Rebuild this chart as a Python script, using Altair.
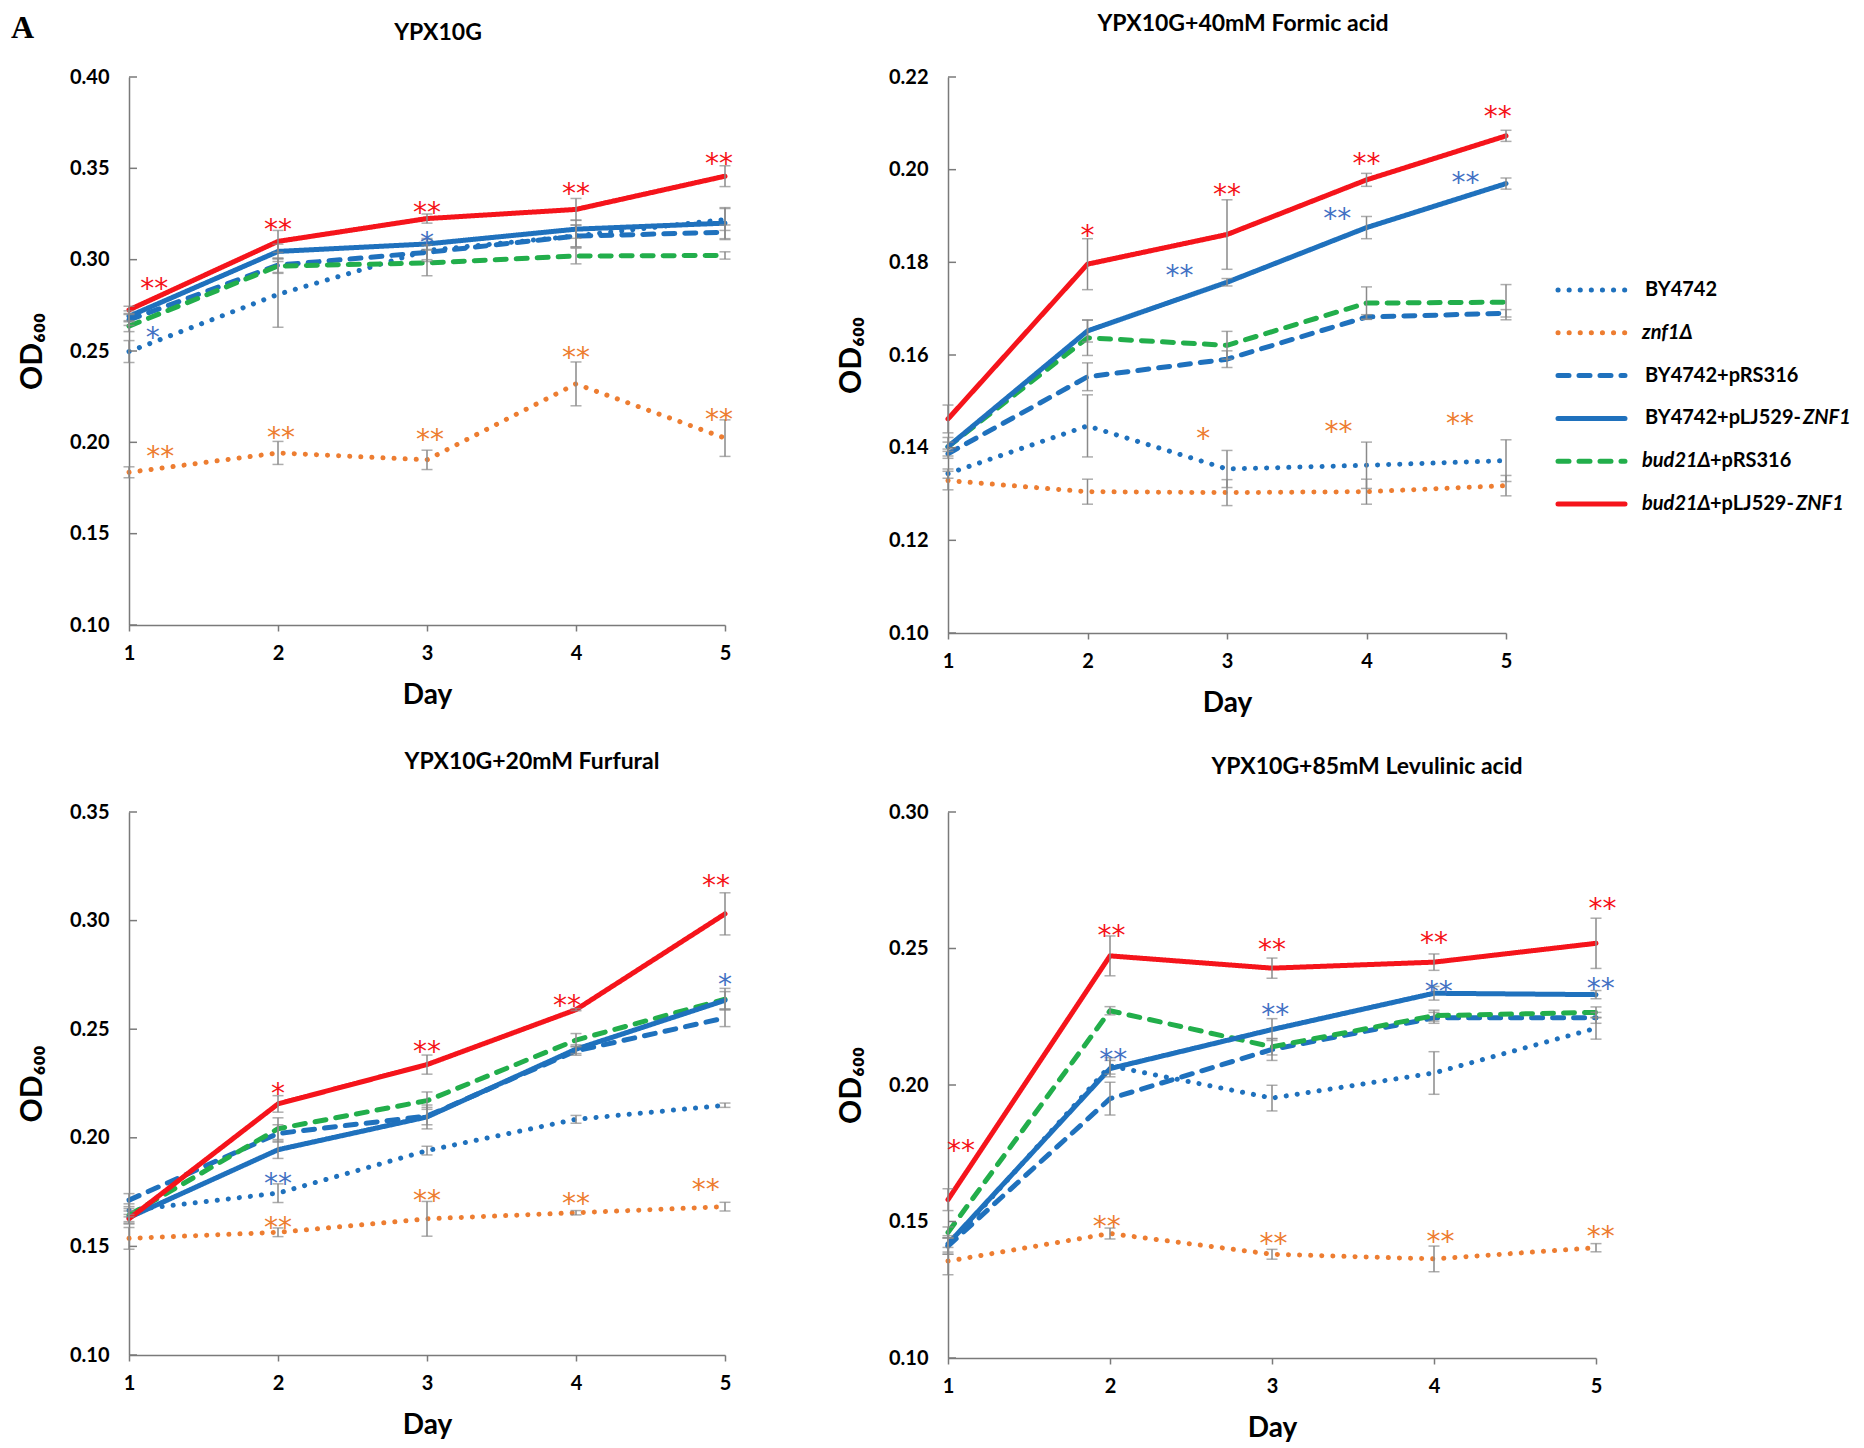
import altair as alt
import pandas as pd

# ---------------- data ----------------
DAYS = [1, 2, 3, 4, 5]
SERIES = ["BY4742", "znf1Δ", "BY4742+pRS316", "BY4742+pLJ529-ZNF1",
          "bud21Δ+pRS316", "bud21Δ+pLJ529-ZNF1"]
DRAW_ORDER = ["znf1Δ", "BY4742", "BY4742+pRS316", "bud21Δ+pRS316",
              "BY4742+pLJ529-ZNF1", "bud21Δ+pLJ529-ZNF1"]

TITLES = ["YPX10G", "YPX10G+40mM Formic acid",
          "YPX10G+20mM Furfural", "YPX10G+85mM Levulinic acid"]

YTICKS_1 = [0.10, 0.15, 0.20, 0.25, 0.30, 0.35, 0.40]
YTICKS_2 = [0.10, 0.12, 0.14, 0.16, 0.18, 0.20, 0.22]
YTICKS_3 = [0.10, 0.15, 0.20, 0.25, 0.30, 0.35]
YTICKS_4 = [0.10, 0.15, 0.20, 0.25, 0.30]

# Panel 1: YPX10G  (mean OD600, SD)
P1_MEAN = {
    "BY4742":             [0.2497, 0.2810, 0.3050, 0.3130, 0.3220],
    "znf1Δ":              [0.1836, 0.1942, 0.1904, 0.2320, 0.2023],
    "BY4742+pRS316":      [0.2670, 0.2970, 0.3040, 0.3129, 0.3150],
    "BY4742+pLJ529-ZNF1": [0.2690, 0.3045, 0.3086, 0.3167, 0.3200],
    "bud21Δ+pRS316":      [0.2636, 0.2965, 0.2982, 0.3020, 0.3023],
    "bud21Δ+pLJ529-ZNF1": [0.2725, 0.3100, 0.3225, 0.3275, 0.3457],
}
P1_SD = {
    "BY4742":             [0.0060, 0.0180, 0.0060, 0.0060, 0.0060],
    "znf1Δ":              [0.0030, 0.0063, 0.0053, 0.0120, 0.0100],
    "BY4742+pRS316":      [0.0030, 0.0040, 0.0040, 0.0060, 0.0040],
    "BY4742+pLJ529-ZNF1": [0.0030, 0.0040, 0.0030, 0.0050, 0.0085],
    "bud21Δ+pRS316":      [0.0030, 0.0040, 0.0070, 0.0043, 0.0020],
    "bud21Δ+pLJ529-ZNF1": [0.0020, 0.0060, 0.0025, 0.0060, 0.0057],
}
# Panel 2: +40mM Formic acid
P2_MEAN = {
    "BY4742":             [0.1344, 0.1447, 0.1354, 0.1362, 0.1372],
    "znf1Δ":              [0.1329, 0.1305, 0.1303, 0.1305, 0.1318],
    "BY4742+pRS316":      [0.1387, 0.1553, 0.1591, 0.1682, 0.1690],
    "BY4742+pLJ529-ZNF1": [0.1402, 0.1652, 0.1757, 0.1875, 0.1970],
    "bud21Δ+pRS316":      [0.1402, 0.1637, 0.1621, 0.1712, 0.1714],
    "bud21Δ+pLJ529-ZNF1": [0.1462, 0.1796, 0.1860, 0.1978, 0.2073],
}
P2_SD = {
    "BY4742":             [0.0010, 0.0067, 0.0040, 0.0050, 0.0045],
    "znf1Δ":              [0.0020, 0.0027, 0.0028, 0.0027, 0.0022],
    "BY4742+pRS316":      [0.0010, 0.0030, 0.0018, 0.0005, 0.0008],
    "BY4742+pLJ529-ZNF1": [0.0010, 0.0024, 0.0008, 0.0024, 0.0012],
    "bud21Δ+pRS316":      [0.0020, 0.0038, 0.0030, 0.0035, 0.0038],
    "bud21Δ+pLJ529-ZNF1": [0.0030, 0.0055, 0.0075, 0.0014, 0.0012],
}
# Panel 3: +20mM Furfural
P3_MEAN = {
    "BY4742":             [0.1666, 0.1745, 0.1941, 0.2085, 0.2150],
    "znf1Δ":              [0.1537, 0.1565, 0.1627, 0.1655, 0.1683],
    "BY4742+pRS316":      [0.1713, 0.2020, 0.2100, 0.2400, 0.2552],
    "BY4742+pLJ529-ZNF1": [0.1633, 0.1945, 0.2096, 0.2408, 0.2633],
    "bud21Δ+pRS316":      [0.1644, 0.2042, 0.2171, 0.2450, 0.2638],
    "bud21Δ+pLJ529-ZNF1": [0.1627, 0.2156, 0.2337, 0.2590, 0.3031],
}
P3_SD = {
    "BY4742":             [0.0030, 0.0043, 0.0020, 0.0018, 0.0010],
    "znf1Δ":              [0.0050, 0.0020, 0.0080, 0.0010, 0.0020],
    "BY4742+pRS316":      [0.0030, 0.0040, 0.0040, 0.0020, 0.0040],
    "BY4742+pLJ529-ZNF1": [0.0030, 0.0040, 0.0055, 0.0020, 0.0040],
    "bud21Δ+pRS316":      [0.0030, 0.0050, 0.0040, 0.0030, 0.0050],
    "bud21Δ+pLJ529-ZNF1": [0.0020, 0.0038, 0.0044, 0.0005, 0.0097],
}
# Panel 4: +85mM Levulinic acid
P4_MEAN = {
    "BY4742":             [0.1410, 0.2070, 0.1952, 0.2044, 0.2208],
    "znf1Δ":              [0.1355, 0.1456, 0.1380, 0.1363, 0.1404],
    "BY4742+pRS316":      [0.1410, 0.1950, 0.2130, 0.2246, 0.2246],
    "BY4742+pLJ529-ZNF1": [0.1418, 0.2060, 0.2203, 0.2336, 0.2331],
    "bud21Δ+pRS316":      [0.1460, 0.2272, 0.2140, 0.2254, 0.2266],
    "bud21Δ+pLJ529-ZNF1": [0.1580, 0.2473, 0.2428, 0.2450, 0.2519],
}
P4_SD = {
    "BY4742":             [0.0030, 0.0030, 0.0047, 0.0078, 0.0040],
    "znf1Δ":              [0.0050, 0.0020, 0.0018, 0.0047, 0.0015],
    "BY4742+pRS316":      [0.0030, 0.0060, 0.0040, 0.0020, 0.0020],
    "BY4742+pLJ529-ZNF1": [0.0030, 0.0030, 0.0040, 0.0025, 0.0015],
    "bud21Δ+pRS316":      [0.0020, 0.0015, 0.0030, 0.0020, 0.0020],
    "bud21Δ+pLJ529-ZNF1": [0.0040, 0.0073, 0.0037, 0.0030, 0.0092],
}

# Significance marks: (day, OD600 level, label) by colour
P1_STARS = {
    "red":    ([1.17, 2.0, 3.0, 4.0, 4.96], [0.2877, 0.3200, 0.3293, 0.3400, 0.3563], ["**", "**", "**", "**", "**"]),
    "blue":   ([1.16, 3.0], [0.2612, 0.3130], ["*", "*"]),
    "orange": ([1.21, 2.02, 3.02, 4.0, 4.96], [0.1960, 0.2063, 0.2050, 0.2500, 0.2162], ["**", "**", "**", "**", "**"]),
}
P2_STARS = {
    "red":    ([2.0, 3.0, 4.0, 4.94], [0.1872, 0.1960, 0.2028, 0.2129], ["*", "**", "**", "**"]),
    "blue":   ([2.66, 3.79, 4.71], [0.1785, 0.1908, 0.1987], ["**", "**", "**"]),
    "orange": ([2.83, 3.8, 4.67], [0.1434, 0.1450, 0.1466], ["*", "**", "**"]),
}
P3_STARS = {
    "red":    ([2.0, 3.0, 3.94, 4.94], [0.2236, 0.2429, 0.2640, 0.3193], ["*", "**", "**", "**"]),
    "blue":   ([2.0, 5.0], [0.1820, 0.2734], ["**", "*"]),
    "orange": ([2.0, 3.0, 4.0, 4.87], [0.1616, 0.1740, 0.1726, 0.1790], ["**", "**", "**", "**"]),
}
P4_STARS = {
    "red":    ([1.08, 2.01, 3.0, 4.0, 5.04], [0.1785, 0.2573, 0.2519, 0.2544, 0.2672], ["**", "**", "**", "**", "**"]),
    "blue":   ([2.02, 3.02, 4.03, 5.03], [0.2119, 0.2283, 0.2365, 0.2376], ["**", "**", "**", "**"]),
    "orange": ([1.98, 3.01, 4.04, 5.03], [0.1507, 0.1444, 0.1452, 0.1469], ["**", "**", "**", "**"]),
}

# legend label pieces (text only)
LEG_A_SERIES = ["BY4742", "BY4742+pRS316", "BY4742+pLJ529-ZNF1"]
LEG_A_TEXT = ["BY4742", "BY4742+pRS316", "BY4742+pLJ529-"]
LEG_B_SERIES = ["znf1Δ", "bud21Δ+pRS316", "bud21Δ+pLJ529-ZNF1"]
LEG_B_TEXT = ["znf1Δ", "bud21Δ", "bud21Δ"]
LEG_C_SERIES = ["bud21Δ+pRS316", "bud21Δ+pLJ529-ZNF1"]
LEG_C_TEXT = ["+pRS316", "+pLJ529-"]
LEG_D4_SERIES = ["BY4742+pLJ529-ZNF1"]
LEG_D6_SERIES = ["bud21Δ+pLJ529-ZNF1"]
LEG_D_TEXT = ["ZNF1"]

# ---------------- styles ----------------
FONT = "Lato"
STAR_FONT = "DejaVu Sans"
BLUE, ORANGE, GREEN, RED = "#1F71BD", "#ED7D31", "#22AE4B", "#F5141B"
LIGHT_BLUE = "#5B9BD5"
STAR_COLORS = {"red": "#F5141B", "blue": "#4472C4", "orange": "#ED7D31"}
COLORS = [BLUE, ORANGE, BLUE, BLUE, GREEN, RED]
COLORS_P4 = [LIGHT_BLUE, ORANGE, BLUE, BLUE, GREEN, RED]
DASHES = [[0.1, 11], [0.1, 11], [11, 10], [1, 0], [11, 10], [1, 0]]
WIDTHS = [5, 5, 5, 4, 5, 4]
AXIS_GRAY = "#7A7A7A"
ERR_GRAY = "#8A8A8A"
TITLE_SIZE = 23


def make_panel(title, ticks, means, sds, stars, width, height, title_dx, title_y,
               colors, extra=None, legend=None):
    rows = []
    for s in DRAW_ORDER:
        for d, m, e in zip(DAYS, means[s], sds[s]):
            rows.append({"series": s, "day": d, "od": m, "lo": m - e, "hi": m + e})
    df = pd.DataFrame(rows)

    xs = alt.Scale(domain=[1, 5], nice=False, zero=False)
    ys = alt.Scale(domain=[ticks[0], ticks[-1]], nice=False, zero=False)
    x_axis = alt.Axis(values=DAYS, format="d", title="Day", grid=False,
                      domainColor=AXIS_GRAY, domainWidth=1.5, tickColor=AXIS_GRAY,
                      tickWidth=1.5, tickSize=6, labelFlush=False,
                      labelFont=FONT, labelFontSize=20, labelFontWeight="bold",
                      labelColor="black", labelPadding=12,
                      titleFont=FONT, titleFontSize=28, titleFontWeight="bold",
                      titleColor="black", titlePadding=18)
    y_axis = alt.Axis(values=ticks, format=".2f", title="OD₆₀₀", grid=False,
                      ticks=False, tickSize=0, domainColor=AXIS_GRAY, domainWidth=1.5,
                      labelFont=FONT, labelFontSize=20, labelFontWeight="bold",
                      labelColor="black", labelPadding=20,
                      titleFont=FONT, titleFontSize=30, titleFontWeight="bold",
                      titleColor="black", titlePadding=22)

    X = lambda f: alt.X(f, scale=xs, axis=x_axis)
    Y = lambda f: alt.Y(f, scale=ys, axis=y_axis)

    color = alt.Color("series:N", scale=alt.Scale(domain=SERIES, range=colors), legend=None)
    dash = alt.StrokeDash("series:N", scale=alt.Scale(domain=SERIES, range=DASHES), legend=None)
    sw = alt.StrokeWidth("series:N", scale=alt.Scale(domain=SERIES, range=WIDTHS), legend=None)

    lines = alt.Chart(df).mark_line(strokeCap="round", strokeJoin="round").encode(
        x=X("day:Q"), y=Y("od:Q"),
        color=color, strokeDash=dash, strokeWidth=sw, order="day:Q")

    err = alt.Chart(df).mark_rule(color=ERR_GRAY, strokeWidth=1.5).encode(
        x=X("day:Q"), y=Y("lo:Q"), y2="hi:Q")
    cap_lo = alt.Chart(df).mark_tick(color=ERR_GRAY, orient="horizontal", size=11,
                                     thickness=1.5).encode(x=X("day:Q"), y=Y("lo:Q"))
    cap_hi = alt.Chart(df).mark_tick(color=ERR_GRAY, orient="horizontal", size=11,
                                     thickness=1.5).encode(x=X("day:Q"), y=Y("hi:Q"))

    yticks = alt.Chart(pd.DataFrame({"od": ticks})).mark_rule(
        color=AXIS_GRAY, strokeWidth=1.5).encode(
        y=Y("od:Q"), x=alt.value(0), x2=alt.value(8))

    layers = [lines, err, cap_lo, cap_hi, yticks]
    for key, (sd, so, st) in stars.items():
        sdf = pd.DataFrame({"day": sd, "od": so, "label": st})
        layers.append(alt.Chart(sdf).mark_text(
            font=STAR_FONT, fontSize=28, color=STAR_COLORS[key], align="center",
            baseline="alphabetic", dy=16).encode(
            x=X("day:Q"), y=Y("od:Q"), text="label:N"))

    ttl = alt.Chart(pd.DataFrame({"t": [title]})).mark_text(
        font=FONT, fontSize=TITLE_SIZE, fontWeight="bold", color="black",
        align="center", baseline="middle").encode(
        text="t:N", x=alt.value(width / 2 + title_dx), y=alt.value(title_y))
    layers.append(ttl)
    if extra is not None:
        layers.append(extra)

    inner = alt.layer(*layers)
    if legend is not None:
        chart = alt.layer(inner, legend).resolve_scale(y="independent")
    else:
        chart = inner
    return chart.properties(width=width, height=height)


# "A" panel label
label_a = alt.Chart(pd.DataFrame({"t": ["A"]})).mark_text(
    font="Liberation Serif", fontSize=32, fontWeight="bold", align="left",
    baseline="top", color="black").encode(
    text="t:N", x=alt.value(-118), y=alt.value(-64))

# legend (drawn beside panel 2)
LEG_TOP, LEG_BOTTOM = 213, 427
leg_y = alt.Y("series:N", scale=alt.Scale(type="point", domain=SERIES,
                                          range=[LEG_TOP, LEG_BOTTOM], padding=0), axis=None)
leg_color = alt.Color("series:N", scale=alt.Scale(domain=SERIES, range=COLORS), legend=None)
leg_dash = alt.StrokeDash("series:N", scale=alt.Scale(domain=SERIES, range=DASHES), legend=None)
leg_sw = alt.StrokeWidth("series:N", scale=alt.Scale(domain=SERIES, range=WIDTHS), legend=None)
leg_sym = alt.Chart(pd.DataFrame({"series": SERIES})).mark_rule(strokeCap="round").encode(
    y=leg_y, x=alt.value(610), x2=alt.value(677),
    color=leg_color, strokeDash=leg_dash, strokeWidth=leg_sw)


def leg_text(series, texts, xpos, italic):
    return alt.Chart(pd.DataFrame({"series": series, "t": texts})).mark_text(
        font=FONT, fontSize=20, fontWeight="bold",
        fontStyle="italic" if italic else "normal",
        align="left", baseline="middle", color="black").encode(
        y=leg_y, x=alt.value(xpos), text="t:N")


legend = alt.layer(
    leg_sym,
    leg_text(LEG_A_SERIES, LEG_A_TEXT, 697, False),
    leg_text(LEG_B_SERIES, LEG_B_TEXT, 694, True),
    leg_text(LEG_C_SERIES, LEG_C_TEXT, 762, False),
    leg_text(LEG_D4_SERIES, LEG_D_TEXT, 855, True),
    leg_text(LEG_D6_SERIES, LEG_D_TEXT, 848, True),
)

p1 = make_panel(TITLES[0], YTICKS_1, P1_MEAN, P1_SD, P1_STARS, 596, 548, 11, -44,
                COLORS, extra=label_a)
p2 = make_panel(TITLES[1], YTICKS_2, P2_MEAN, P2_SD, P2_STARS, 558, 556, 16, -53,
                COLORS, legend=legend)
p3 = make_panel(TITLES[2], YTICKS_3, P3_MEAN, P3_SD, P3_STARS, 596, 543, 105, -50,
                COLORS)
p4 = make_panel(TITLES[3], YTICKS_4, P4_MEAN, P4_SD, P4_STARS, 648, 546, 95, -45,
                COLORS_P4)

chart = alt.concat(p1, p2, p3, p4, columns=2,
                   spacing={"row": 179, "column": 223},
                   bounds="flush", align="each").properties(
    padding={"top": 4, "left": 3, "right": 0, "bottom": 0}, background="white"
).configure_view(stroke=None)

chart.save("out.html", embed_options={"renderer": "svg", "actions": False})
